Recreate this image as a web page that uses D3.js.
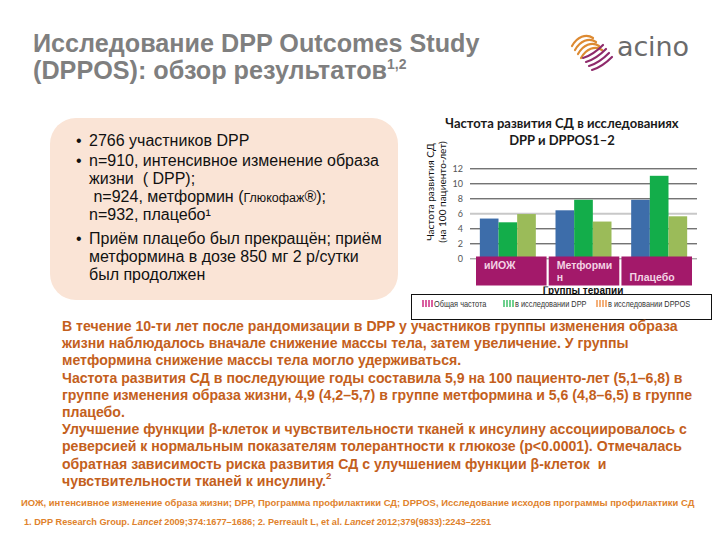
<!DOCTYPE html>
<html><head><meta charset="utf-8">
<script src="https://cdn.jsdelivr.net/npm/d3@7"></script>
<style>
html,body{margin:0;padding:0;background:#fff;}
svg{display:block;}
</style>
</head><body>
<script>
// ---- Data ----
const categories = ["иИОЖ", "Метформин", "Плацебо"];
const categoryLabelLines = [["иИОЖ"], ["Метформи", "н"], ["", "Плацебо"]];
const seriesNames = ["Общая частота", "в исследовании DPP", "в исследовании DPPOS"];
const overallRate = [5.3, 6.4, 7.8];
const dppRate = [4.8, 7.8, 11.0];
const dpposRate = [5.9, 4.9, 5.6];
const yTicks = [0, 2, 4, 6, 8, 10, 12];
const chartTitle = ["Частота развития СД в исследованиях", "DPP и DPPOS1–2"];
const yAxisTitle = ["Частота развития СД", "(на 100 пациенто-лет)"];
const xAxisTitle = "Группы терапии";

const seriesValues = [overallRate, dppRate, dpposRate];
const seriesColors = ["#3d6daa", "#13ad4a", "#9bbb59"];
const legendColors = ["#d95fa0", "#6fd08f", "#f4b07a"];

const W = 720, H = 540;
const svg = d3.select("body").append("svg").attr("width", W).attr("height", H);
const defs = svg.append("defs");

// ---- Slide title ----
const title = svg.append("g").attr("font-family", "'Liberation Sans', Arial, sans-serif")
  .attr("font-weight", "bold").attr("fill", "#7f7f7f").attr("font-size", 25.2);
title.append("text").attr("x", 33).attr("y", 52).text("Исследование DPP Outcomes Study");
const t2 = title.append("text").attr("x", 33).attr("y", 79).text("(DPPOS): обзор результатов");
t2.append("tspan").attr("font-size", 14).attr("dy", -10).text("1,2");

// ---- Logo ----
const logo = svg.append("g");
const stripeIdx = [0, 1, 2, 3];
stripeIdx.forEach(i => {
  const dx = i * 3.0, dy = i * 4.0;
  const x = 572 + dx, yy = 35 + dy;
  logo.append("path")
    .attr("d", `M${x},${yy + 11} C${x + 5},${yy + 2} ${x + 14},${yy - 2} ${x + 21},${yy + 3}`)
    .attr("fill", "none").attr("stroke", "#dd8a32").attr("stroke-width", 2.2).attr("stroke-linecap", "round");
});
stripeIdx.forEach(i => {
  const dx = i * 3.0, dy = i * 4.0;
  const x = 583 + dx, yy = 47 + dy;
  logo.append("path")
    .attr("d", `M${x},${yy + 11} C${x + 7},${yy + 9} ${x + 14},${yy + 4} ${x + 20},${yy - 2}`)
    .attr("fill", "none").attr("stroke", "#8e2a6b").attr("stroke-width", 2.2).attr("stroke-linecap", "round");
});
logo.append("text").attr("x", 617).attr("y", 56).attr("font-family", "'DejaVu Sans', sans-serif")
  .attr("font-size", 27).attr("fill", "#6b6b6b").attr("textLength", 72).text("acino");

// ---- Peach box ----
svg.append("rect").attr("x", 50).attr("y", 118).attr("width", 348).attr("height", 182)
  .attr("rx", 26).attr("fill", "#fae4d6");
const box = svg.append("g").attr("font-family", "'Liberation Sans', Arial, sans-serif")
  .attr("font-size", 16).attr("fill", "#111");
const boxLines = [
  {b: true, t: "2766 участников DPP", y: 146},
  {b: true, t: "n=910, интенсивное изменение образа", y: 166},
  {b: false, t: "жизни  ( DPP);", y: 184},
  {b: false, t: " n=924, метформин (", y: 202, small: "Глюкофаж", after: "®);"},
  {b: false, t: "n=932, плацебо¹", y: 220},
  {b: true, t: "Приём плацебо был прекращён; приём", y: 244},
  {b: false, t: "метформина в дозе 850 мг 2 р/сутки", y: 262},
  {b: false, t: "был продолжен", y: 280}
];
boxLines.forEach(l => {
  if (l.b) box.append("text").attr("x", 76).attr("y", l.y).text("•");
  const tx = box.append("text").attr("x", 89).attr("y", l.y).attr("xml:space", "preserve").text(l.t);
  if (l.small) {
    tx.append("tspan").attr("font-size", 12.5).text(l.small);
    tx.append("tspan").text(l.after);
  }
});

// ---- Chart ----
const chart = svg.append("g");
const y = d3.scaleLinear().domain([0, 12]).range([258.3, 168.3]);
const x0 = d3.scaleBand().domain(categories).range([470, 697]).paddingInner(0.26).paddingOuter(0.13);
const x1 = d3.scaleBand().domain(seriesNames).range([0, x0.bandwidth()]);
const xBox = d3.scaleBand().domain(categories).range([476, 692]).paddingInner(0.03);

chart.append("g").attr("font-family", "Lato, 'Open Sans', sans-serif").attr("font-weight", "bold")
  .attr("font-size", 13).attr("fill", "#1a1a1a").attr("text-anchor", "middle")
  .selectAll("text").data(chartTitle).join("text")
  .attr("x", 562).attr("y", (d, i) => 128 + i * 17).text(d => d);

chart.append("g").attr("font-family", "Lato, 'Open Sans', sans-serif").attr("font-size", 10)
  .attr("fill", "#111").attr("text-anchor", "middle")
  .selectAll("text").data(yAxisTitle).join("text")
  .attr("transform", (d, i) => `translate(${434 + i * 12},192) rotate(-90)`).text(d => d);

const yAxis = d3.axisLeft(y).tickValues(yTicks).tickSize(-(697 - 470)).tickPadding(7).tickFormat(d3.format("d"));
const ga = chart.append("g").attr("transform", "translate(470,0)").call(yAxis);
ga.select(".domain").remove();
ga.selectAll(".tick line").attr("stroke", d => d === 6 ? "#c8c8c8" : d === 0 ? "#888" : "#3a3a3a")
  .attr("stroke-width", d => d === 6 ? 2 : 1);
ga.selectAll(".tick text").attr("font-family", "Lato, sans-serif").attr("font-size", 9).attr("fill", "#555");

const groups = chart.append("g").selectAll("g").data(categories).join("g")
  .attr("transform", d => `translate(${x0(d)},0)`);
groups.selectAll("rect").data((d, ci) => seriesNames.map((s, si) => ({s, si, v: seriesValues[si][ci]})))
  .join("rect")
  .attr("x", d => x1(d.s)).attr("width", x1.bandwidth())
  .attr("y", d => y(d.v)).attr("height", d => y(0) - y(d.v))
  .attr("fill", d => seriesColors[d.si]);

const cb = chart.append("g").selectAll("g").data(categories).join("g");
cb.append("rect").attr("x", d => xBox(d)).attr("y", 256.5).attr("width", xBox.bandwidth()).attr("height", 29)
  .attr("fill", "#a3196a");
cb.each(function(d, i) {
  d3.select(this).selectAll("text").data(categoryLabelLines[i]).join("text")
    .attr("x", xBox(d) + 8).attr("y", (t, j) => 268.5 + j * 12)
    .attr("font-family", "'Liberation Sans', Arial, sans-serif").attr("font-weight", "bold")
    .attr("font-size", 10.5).attr("fill", "#f3d3e4").text(t => t);
});

defs.append("clipPath").attr("id", "xtclip")
  .append("rect").attr("x", 400).attr("y", 286.5).attr("width", 320).attr("height", 20);
chart.append("text").attr("clip-path", "url(#xtclip)").attr("x", 583).attr("y", 293.5)
  .attr("text-anchor", "middle").attr("font-family", "'Liberation Sans', Arial, sans-serif")
  .attr("font-weight", "bold").attr("font-size", 10).attr("fill", "#111").text(xAxisTitle);

legendColors.forEach((c, i) => {
  const p = defs.append("pattern").attr("id", "lp" + i).attr("patternUnits", "userSpaceOnUse")
    .attr("width", 3).attr("height", 3);
  p.append("rect").attr("width", 3).attr("height", 3).attr("fill", "#fff");
  p.append("rect").attr("width", 2).attr("height", 3).attr("fill", c);
});
chart.append("rect").attr("x", 411.5).attr("y", 294.5).attr("width", 300).attr("height", 25)
  .attr("fill", "#fff").attr("stroke", "#111").attr("stroke-width", 1);
const legendX = [422, 503, 596];
const lg = chart.append("g").selectAll("g").data(seriesNames).join("g")
  .attr("transform", (d, i) => `translate(${legendX[i]},0)`);
lg.append("rect").attr("x", 0).attr("y", 300).attr("width", 11).attr("height", 7).attr("fill", (d, i) => `url(#lp${i})`);
lg.append("text").attr("transform", "translate(12,306.5) scale(0.82,1)")
  .attr("font-family", "'Liberation Sans', Arial, sans-serif")
  .attr("font-size", 9).attr("fill", "#333").text(d => d);

// ---- Body text ----
const bodyLines = [
  "В течение 10-ти лет после рандомизации в DPP у участников группы изменения образа",
  "жизни наблюдалось вначале снижение массы тела, затем увеличение. У группы",
  "метформина снижение массы тела могло удерживаться.",
  "Частота развития СД в последующие годы составила 5,9 на 100 пациенто-лет (5,1–6,8) в",
  "группе изменения образа жизни, 4,9 (4,2–5,7) в группе метформина и 5,6 (4,8–6,5) в группе",
  "плацебо.",
  "Улучшение функции β-клеток и чувствительности тканей к инсулину ассоциировалось с",
  "реверсией к нормальным показателям толерантности к глюкозе (p<0.0001). Отмечалась",
  "обратная зависимость риска развития СД с улучшением функции β-клеток  и",
  "чувствительности тканей к инсулину."
];
const body = svg.append("g").attr("font-family", "'Liberation Sans', Arial, sans-serif")
  .attr("font-weight", "bold").attr("font-size", 14.1).attr("fill", "#c4601c");
body.selectAll("text").data(bodyLines).join("text")
  .attr("x", 62).attr("y", (d, i) => 331 + i * 17.2).attr("xml:space", "preserve").text(d => d);
body.select("text:last-child").append("tspan").attr("font-size", 9.5).attr("dy", -7).text("2");

// ---- Footnotes ----
const foot = svg.append("g").attr("font-family", "'Liberation Sans', Arial, sans-serif")
  .attr("font-weight", "bold").attr("font-size", 9.2).attr("fill", "#e0822c");
foot.append("text").attr("x", 21).attr("y", 506).attr("font-size", 9.45)
  .text("ИОЖ, интенсивное изменение образа жизни; DPP, Программа профилактики СД; DPPOS, Исследование исходов программы профилактики СД");
const f2 = foot.append("text").attr("x", 24).attr("y", 525);
f2.append("tspan").text("1. DPP Research Group. ");
f2.append("tspan").attr("font-style", "italic").text("Lancet");
f2.append("tspan").text(" 2009;374:1677–1686; 2. Perreault L, et al. ");
f2.append("tspan").attr("font-style", "italic").text("Lancet");
f2.append("tspan").text(" 2012;379(9833):2243–2251");
</script>
</body></html>
